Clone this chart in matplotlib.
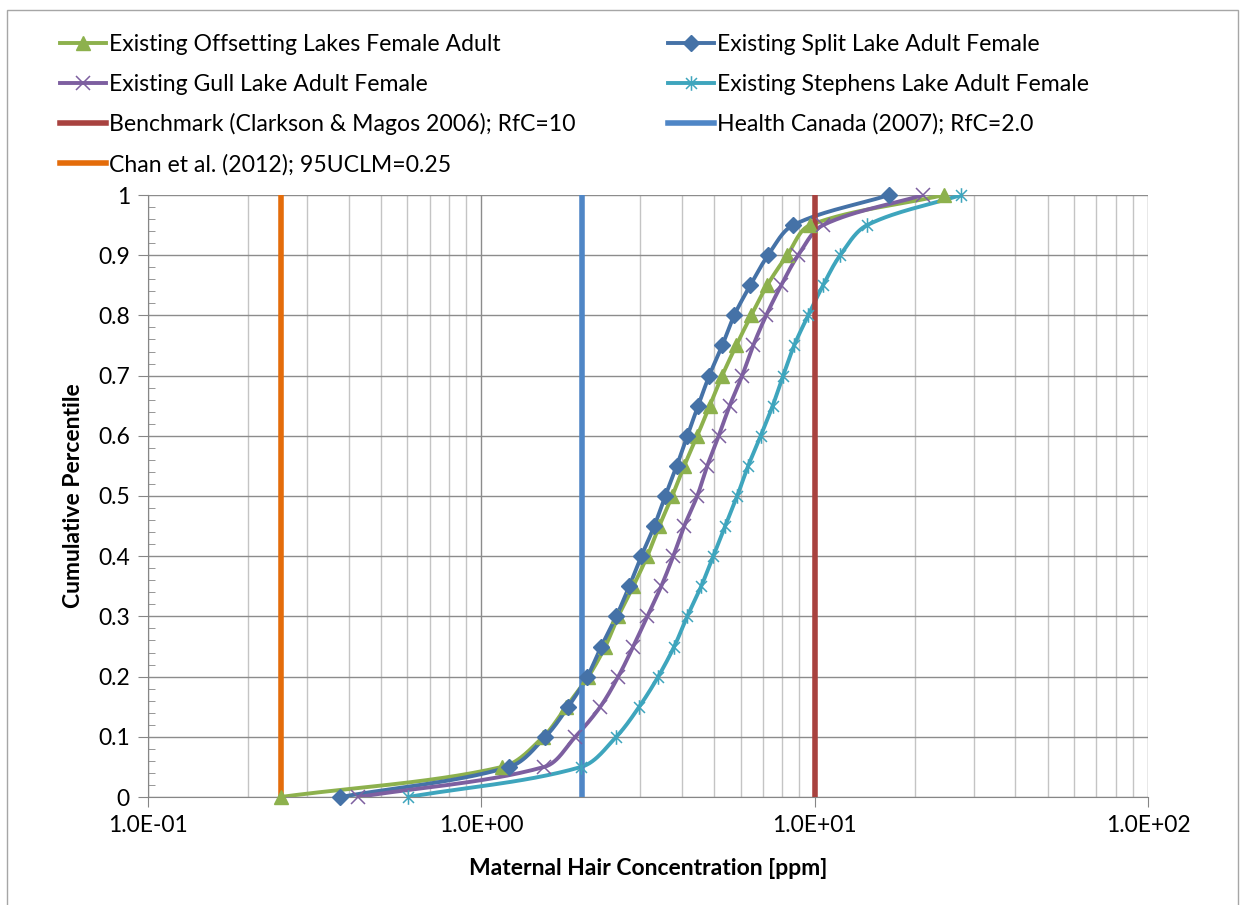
import numpy as np
import matplotlib
matplotlib.use('Agg')
import matplotlib.pyplot as plt
from matplotlib.lines import Line2D
from matplotlib.path import Path
from matplotlib.patches import Rectangle
from matplotlib.ticker import FuncFormatter, LogLocator, MultipleLocator

plt.rcParams['font.family'] = ['Lato', 'DejaVu Sans']

# 累积百分位
pct = [0, 0.05, 0.1, 0.15, 0.2, 0.25, 0.3, 0.35, 0.4, 0.45, 0.5,
       0.55, 0.6, 0.65, 0.7, 0.75, 0.8, 0.85, 0.9, 0.95, 1.0]

# 各湖头发浓度 (ppm)
offsetting = [0.25, 1.156, 1.534, 1.798, 2.094, 2.354, 2.575, 2.856, 3.146, 3.418, 3.739,
              4.061, 4.443, 4.845, 5.280, 5.816, 6.452, 7.204, 8.272, 9.694, 24.45]
split = [0.378, 1.213, 1.556, 1.823, 2.079, 2.290, 2.540, 2.778, 3.019, 3.302, 3.563,
         3.857, 4.147, 4.473, 4.828, 5.280, 5.736, 6.408, 7.253, 8.622, 16.73]
gull = [0.428, 1.545, 1.914, 2.275, 2.575, 2.856, 3.146, 3.465, 3.765, 4.061, 4.443,
        4.762, 5.154, 5.561, 6.061, 6.541, 7.154, 7.936, 8.925, 10.60, 21.15]
stephens = [0.604, 1.994, 2.540, 2.977, 3.394, 3.791, 4.147, 4.567, 4.963, 5.391, 5.856,
            6.318, 6.888, 7.484, 8.046, 8.680, 9.561, 10.60, 11.93, 14.37, 27.50]

# 参考值
benchmark = 10
health_canada = 2.0
chan = 0.25

series_names = ['Existing Offsetting Lakes Female Adult', 'Existing Split Lake Adult Female',
                'Existing Gull Lake Adult Female', 'Existing Stephens Lake Adult Female']
ref_names = ['Benchmark (Clarkson & Magos 2006); RfC=10', 'Health Canada (2007); RfC=2.0',
             'Chan et al. (2012); 95UCLM=0.25']

xticks = [0.1, 1, 10, 100]

star = Path([(0, -1), (0, 1), (-0.75, -0.75), (0.75, 0.75), (-0.75, 0.75), (0.75, -0.75)],
            [Path.MOVETO, Path.LINETO, Path.MOVETO, Path.LINETO, Path.MOVETO, Path.LINETO])


def smooth(xs, ys, n=30, k=1.805):
    # 平滑线: 在log(x)-y空间按线段长度缩放切线的Bezier
    u = np.log10(np.asarray(xs, float))
    v = np.asarray(ys, float) * k
    P = np.column_stack([u, v])
    P = np.vstack([P[0], P, P[-1]])
    d = np.linalg.norm(np.diff(P, axis=0), axis=1)
    out = []
    t = np.linspace(0, 1, n)[:, None]
    for i in range(1, len(P) - 2):
        p0, p1, p2, p3 = P[i - 1], P[i], P[i + 1], P[i + 2]
        d0, d1, d2 = d[i - 1], d[i], d[i + 1]
        c1 = p1 + (p2 - p0) / (d0 + d1) * d1 / 3
        c2 = p2 - (p3 - p1) / (d1 + d2) * d1 / 3
        b = ((1 - t) ** 3) * p1 + 3 * ((1 - t) ** 2) * t * c1 + 3 * (1 - t) * t ** 2 * c2 + t ** 3 * p2
        out.append(b if i == 1 else b[1:])
    out = np.vstack(out)
    return 10 ** out[:, 0], out[:, 1] / k


fig = plt.figure(figsize=(12.44, 9.05), dpi=100)
fig.patches.append(Rectangle((7 / 1244, -0.01), 1231 / 1244, 1 - 10 / 905 + 0.01, transform=fig.transFigure,
                             fill=False, edgecolor='#a6a6a6', linewidth=1.0))
ax = fig.add_axes([148 / 1244, 1 - 797 / 905, 1000 / 1244, 602 / 905])

styles = [
    dict(color='#8db14d', marker='^', ms=10, mew=1),
    dict(color='#4572a7', marker='D', ms=8.5, mew=1),
    dict(color='#7d5fa0', marker='x', ms=10.5, mew=1.1),
    dict(color='#3ea5bd', marker=star, ms=10.5, mew=1.1),
]
data = [offsetting, split, gull, stephens]

handles = []
for name, xs, st in zip(series_names, data, styles):
    sx, sy = smooth(xs, pct)
    ax.plot(sx, sy, color=st['color'], lw=2.8, zorder=3, solid_capstyle='round')
    ax.plot(xs, pct, linestyle='none', marker=st['marker'], ms=st['ms'], color=st['color'],
            mec=st['color'], mew=st['mew'], zorder=5, clip_on=False)
    handles.append(Line2D([], [], color=st['color'], lw=2.8, marker=st['marker'], ms=st['ms'],
                          mec=st['color'], mew=st['mew']))

ref_colors = ['#a8423f', '#4f86c6', '#e46c0a']
for val, col in zip([benchmark, health_canada, chan], ref_colors):
    ax.axvline(val, color=col, lw=4, zorder=4)
    handles.append(Line2D([], [], color=col, lw=4))

ax.set_xscale('log')
ax.set_xlim(0.1, 100)
ax.set_ylim(0, 1)
ax.set_xticks(xticks)
ax.xaxis.set_major_formatter(FuncFormatter(lambda v, p: format(v, '.1E')))
ax.xaxis.set_minor_locator(LogLocator(base=10, subs=np.arange(2, 10)))
ax.xaxis.set_minor_formatter(FuncFormatter(lambda v, p: ''))
ax.yaxis.set_major_locator(MultipleLocator(0.1))
ax.yaxis.set_minor_locator(MultipleLocator(0.02))
ax.yaxis.set_major_formatter(FuncFormatter(lambda v, p: '{:g}'.format(round(v, 2))))

ax.grid(which='major', color='#8c8c8c', lw=1.0, zorder=0)
ax.grid(which='minor', axis='x', color='#c4c4c4', lw=1.0, zorder=0)
ax.set_axisbelow(True)
for s in ['top', 'right']:
    ax.spines[s].set_visible(False)
for s in ['left', 'bottom']:
    ax.spines[s].set_color('#868686')
ax.tick_params(axis='both', which='major', labelsize=16.5, length=7, color='#868686', direction='out', pad=6)
ax.tick_params(axis='y', which='minor', length=5, color='#868686', direction='in')
ax.tick_params(axis='x', which='minor', length=0)

ax.set_xlabel('Maternal Hair Concentration [ppm]', fontsize=16.5, fontweight='bold', labelpad=16)
ax.set_ylabel('Cumulative Percentile', fontsize=16.5, fontweight='bold', labelpad=10)

leg_kw = dict(frameon=False, fontsize=16.6, handlelength=2.0, handletextpad=0.1,
              labelspacing=0.8, loc='upper left', borderaxespad=0)
all_names = series_names + ref_names
# 图例顺序: 左列 Offsetting, Gull, Benchmark, Chan; 右列 Split, Stephens, Health Canada
left = [handles[0], handles[2], handles[4], handles[6]]
left_lab = [all_names[0], all_names[2], all_names[4], all_names[6]]
right = [handles[1], handles[3], handles[5]]
right_lab = [all_names[1], all_names[3], all_names[5]]
fig.legend(left, left_lab, bbox_to_anchor=(51 / 1244, 1 - 25 / 905), **leg_kw)
fig.legend(right, right_lab, bbox_to_anchor=(659 / 1244, 1 - 25 / 905), **leg_kw)

fig.savefig('out.png', dpi=100)
